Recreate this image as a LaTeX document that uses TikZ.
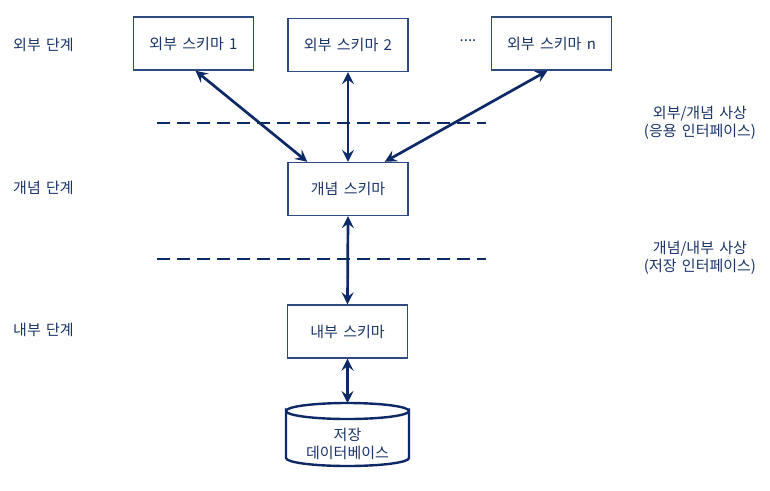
\documentclass[tikz,border=0pt]{standalone}
\usepackage{fontspec}
\setmainfont{Noto Sans CJK KR}[WordSpace=1.6]
\usetikzlibrary{arrows.meta}
\definecolor{navy}{HTML}{0E2A66}
\definecolor{boxc}{HTML}{2E4A80}
\definecolor{txt}{HTML}{1B3468}
\tikzset{
  schema/.style={draw=boxc, line width=1.4pt, fill=white, minimum width=120pt, minimum height=53pt, inner sep=0pt, text=txt, font=\fontsize{15}{17}\selectfont},
  lbl/.style={text=txt, font=\fontsize{15}{17}\selectfont, inner sep=0pt},
  conn/.style={draw=navy, line width=2.7pt, {Stealth[length=12pt,width=12pt,inset=4.5pt]}-{Stealth[length=12pt,width=12pt,inset=4.5pt]}},
  sep/.style={draw=navy, line width=2.6pt, dash pattern=on 12.5pt off 7.5pt}
}
\begin{document}
\begin{tikzpicture}[x=1pt,y=-1pt]
\useasboundingbox (0,0) rectangle (770,490);
\node[schema] (e1) at (193.5,43.5) {외부 스키마 1};
\node[schema] (e2) at (348,45) {외부 스키마 2};
\node[schema] (en) at (551.5,43.5) {외부 스키마 n};
\node[lbl] (dots) at (468,41) {....};
\node[schema] (c) at (348,189) {개념 스키마};
\node[schema] (i) at (347.5,331.5) {내부 스키마};
% cylinder
\coordinate (dbtop) at (347.5,403);
\draw[draw=navy, line width=2.4pt, fill=white] (286,411) arc[start angle=180,end angle=360,x radius=61.5pt,y radius=8pt] -- (409,458) arc[start angle=0,end angle=-180,x radius=61.5pt,y radius=8pt] -- cycle;
\draw[draw=navy, line width=2.4pt] (286,411) arc[start angle=180,end angle=0,x radius=61.5pt,y radius=8pt];
\node[lbl, align=center, font=\fontsize{15}{18}\selectfont] (db) at (347.5,444) {저장\\데이터베이스};
% separators
\coordinate (s1a) at (157,123); \coordinate (s1b) at (486,123);
\coordinate (s2a) at (157,259); \coordinate (s2b) at (486,259);
\draw[sep] (s1a) -- (s1b);
\draw[sep] (s2a) -- (s2b);
% level labels
\node[lbl, anchor=west] (l1) at (13,45) {외부 단계};
\node[lbl, anchor=west] (l2) at (13,188) {개념 단계};
\node[lbl, anchor=west] (l3) at (13,330) {내부 단계};
\node[lbl, align=center, font=\fontsize{15}{18}\selectfont] (m1) at (700,123) {외부/개념 사상\\(응용 인터페이스)};
\node[lbl, align=center, font=\fontsize{15}{18}\selectfont] (m2) at (700,258) {개념/내부 사상\\(저장 인터페이스)};
% connectors
\draw[conn] ([xshift=2pt]e1.south) -- ([xshift=20pt]c.north west);
\draw[conn] (e2.south) -- (c.north);
\draw[conn] ([xshift=-4pt]en.south) -- ([xshift=-24pt]c.north east);
\draw[conn] (c.south) -- (i.north);
\draw[conn] (i.south) -- (dbtop);
\end{tikzpicture}
\end{document}
